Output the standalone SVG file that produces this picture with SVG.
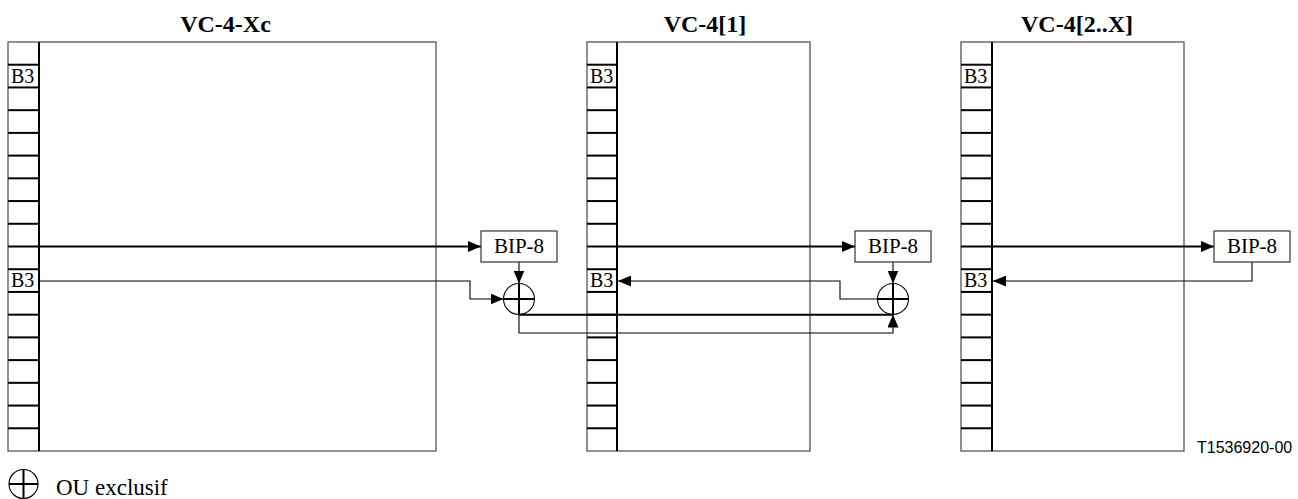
<svg xmlns="http://www.w3.org/2000/svg" xmlns:xlink="http://www.w3.org/1999/xlink" width="1298" height="499" viewBox="0 0 1298 499">
<style>
.frame{fill:none;stroke:#555;stroke-width:1.3}
.div{stroke:#000;stroke-width:2}
.rung{stroke:#000;stroke-width:2}
.title{font-family:"Liberation Serif","Times New Roman",serif;font-weight:bold;font-size:24px;text-anchor:middle;fill:#000}
.b3{font-family:"Liberation Serif","Times New Roman",serif;font-size:20px;fill:#000}
.bip{font-family:"Liberation Serif","Times New Roman",serif;font-size:21px;text-anchor:middle;fill:#000}
.bipbox{fill:#fff;stroke:#333;stroke-width:1.2}
.thick{fill:none;stroke:#000;stroke-width:2}
.thin{fill:none;stroke:#000;stroke-width:1.1}
.xorc{fill:none;stroke:#000;stroke-width:1.1}
.xorx{stroke:#000;stroke-width:2}
.legend{font-family:"Liberation Serif","Times New Roman",serif;font-size:23px;fill:#000}
.ref{font-family:"Liberation Sans",Arial,sans-serif;font-size:16px;fill:#000}
</style>
<defs>
<marker id="ah" markerUnits="userSpaceOnUse" markerWidth="13" markerHeight="11" refX="13" refY="5.5" orient="auto">
<path d="M0,0 L13,5.5 L0,11 Z" fill="#000"/>
</marker>
<g id="ladder">
<line class="rung" x1="0" y1="64.72" x2="31" y2="64.72"/>
<line class="rung" x1="0" y1="87.44" x2="31" y2="87.44"/>
<line class="rung" x1="0" y1="110.17" x2="31" y2="110.17"/>
<line class="rung" x1="0" y1="132.89" x2="31" y2="132.89"/>
<line class="rung" x1="0" y1="155.61" x2="31" y2="155.61"/>
<line class="rung" x1="0" y1="178.33" x2="31" y2="178.33"/>
<line class="rung" x1="0" y1="201.06" x2="31" y2="201.06"/>
<line class="rung" x1="0" y1="223.78" x2="31" y2="223.78"/>
<line class="rung" x1="0" y1="246.5" x2="31" y2="246.5"/>
<line class="rung" x1="0" y1="269.22" x2="31" y2="269.22"/>
<line class="rung" x1="0" y1="291.94" x2="31" y2="291.94"/>
<line class="rung" x1="0" y1="314.67" x2="31" y2="314.67"/>
<line class="rung" x1="0" y1="337.39" x2="31" y2="337.39"/>
<line class="rung" x1="0" y1="360.11" x2="31" y2="360.11"/>
<line class="rung" x1="0" y1="382.83" x2="31" y2="382.83"/>
<line class="rung" x1="0" y1="405.56" x2="31" y2="405.56"/>
<line class="rung" x1="0" y1="428.28" x2="31" y2="428.28"/>
<text class="b3" x="3" y="82.5">B3</text>
<text class="b3" x="3" y="287">B3</text>
</g>
</defs>
<rect width="1298" height="499" fill="#fff"/>

<g id="vc4xc">
<text class="title" x="225.5" y="32">VC-4-Xc</text>
<rect class="frame" x="8" y="42" width="428" height="409"/>
<use xlink:href="#ladder" x="8"/>
<line class="div" x1="39" y1="42" x2="39" y2="451"/>
</g>

<g id="vc4-1">
<text class="title" x="705" y="32">VC-4[1]</text>
<rect class="frame" x="587" y="42" width="223" height="409"/>
<use xlink:href="#ladder" x="587"/>
<line class="div" x1="617" y1="42" x2="617" y2="451"/>
</g>

<g id="vc4-2x">
<text class="title" x="1077" y="32">VC-4[2..X]</text>
<rect class="frame" x="961" y="42" width="223" height="409"/>
<use xlink:href="#ladder" x="961"/>
<line class="div" x1="992" y1="42" x2="992" y2="451"/>
</g>

<g id="connectors">
<line class="thick" x1="39" y1="246.5" x2="481" y2="246.5" marker-end="url(#ah)"/>
<line class="thick" x1="617" y1="246.5" x2="855" y2="246.5" marker-end="url(#ah)"/>
<line class="thick" x1="992" y1="246.5" x2="1214" y2="246.5" marker-end="url(#ah)"/>
<line class="thin" x1="519" y1="262" x2="519" y2="283.5" marker-end="url(#ah)"/>
<line class="thin" x1="893" y1="262" x2="893" y2="283.5" marker-end="url(#ah)"/>
<polyline class="thin" points="39,281 470,281 470,299 503.5,299" marker-end="url(#ah)"/>
<polyline class="thin" points="877.5,299 840,299 840,281 618,281" marker-end="url(#ah)"/>
<polyline class="thin" points="1252,262 1252,281 993,281" marker-end="url(#ah)"/>
<line class="thick" x1="519" y1="314.67" x2="893" y2="314.67"/>
<polyline class="thin" points="519,314.5 519,333 893,333 893,314.5" marker-end="url(#ah)"/>
</g>

<g id="bip8-1">
<rect class="bipbox" x="481" y="231" width="76" height="31"/>
<text class="bip" x="519" y="253">BIP-8</text>
</g>
<g id="bip8-2">
<rect class="bipbox" x="855" y="231" width="76" height="31"/>
<text class="bip" x="893" y="253">BIP-8</text>
</g>
<g id="bip8-3">
<rect class="bipbox" x="1214" y="231" width="76" height="31"/>
<text class="bip" x="1252" y="253">BIP-8</text>
</g>

<g id="xor-1">
<circle class="xorc" cx="519" cy="299" r="15.5"/>
<line class="xorx" x1="503.5" y1="299" x2="534.5" y2="299"/>
<line class="xorx" x1="519" y1="283.5" x2="519" y2="314.5"/>
</g>
<g id="xor-2">
<circle class="xorc" cx="893" cy="299" r="15.5"/>
<line class="xorx" x1="877.5" y1="299" x2="908.5" y2="299"/>
<line class="xorx" x1="893" y1="283.5" x2="893" y2="314.5"/>
</g>

<g id="legend">
<circle class="xorc" cx="23.5" cy="484" r="14.5"/>
<line class="xorx" x1="9" y1="484" x2="38" y2="484"/>
<line class="xorx" x1="23.5" y1="469.5" x2="23.5" y2="498.5"/>
<text class="legend" x="56" y="495">OU exclusif</text>
</g>

<g id="figure-ref">
<text class="ref" x="1197" y="453">T1536920-00</text>
</g>
</svg>
